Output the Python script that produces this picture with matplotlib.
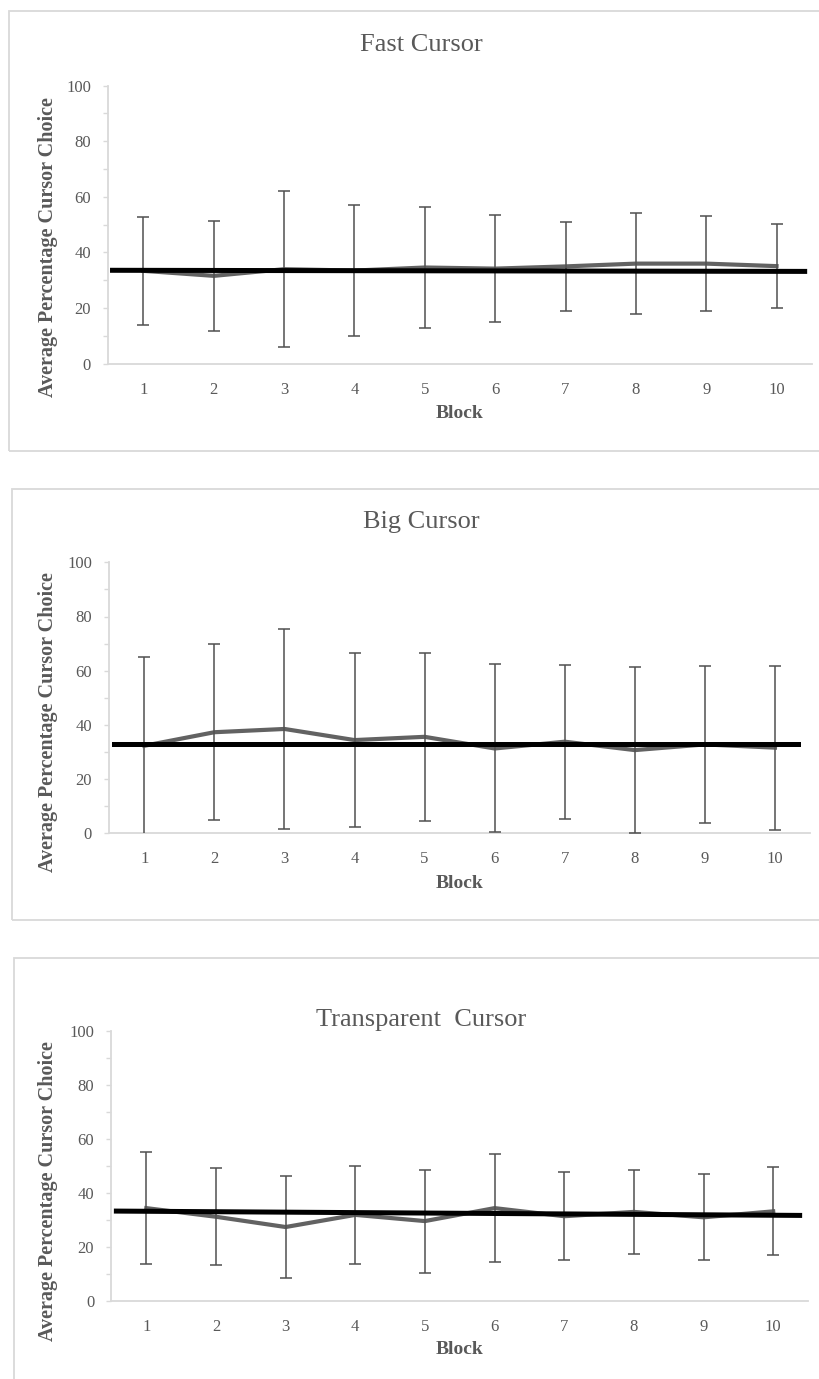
import matplotlib
matplotlib.use("Agg")
import matplotlib.pyplot as plt
from matplotlib.patches import Rectangle
from matplotlib.ticker import MultipleLocator

# data
blocks = [1, 2, 3, 4, 5, 6, 7, 8, 9, 10]
block_labels = ["1", "2", "3", "4", "5", "6", "7", "8", "9", "10"]

fast_mean = [33.4, 31.6, 34.0, 33.5, 34.6, 34.2, 35.0, 36.0, 36.0, 35.1]
fast_err = [19.5, 19.7, 28.1, 23.5, 21.8, 19.3, 16.0, 18.2, 17.1, 15.1]
fast_ref_x = [0.56, 10.40]
fast_ref_y = [33.6, 33.2]

big_mean = [32.3, 37.3, 38.5, 34.4, 35.6, 31.3, 33.8, 30.7, 32.8, 31.6]
big_err = [32.9, 32.4, 36.8, 32.0, 30.9, 31.0, 28.4, 30.7, 29.0, 30.3]
big_ref_x = [0.57, 10.33]
big_ref_y = [33.1, 33.1]

trans_mean = [34.4, 31.2, 27.4, 31.9, 29.6, 34.4, 31.4, 33.0, 31.0, 33.2]
trans_err = [20.7, 17.9, 18.8, 18.2, 19.1, 20.1, 16.3, 15.6, 15.9, 16.3]
trans_ref_x = [0.57, 10.38]
trans_ref_y = [33.3, 31.7]

titles = ["Fast Cursor", "Big Cursor", "Transparent  Cursor"]

W, H = 820, 1379
fig = plt.figure(figsize=(W / 100, H / 100), dpi=100)
fig.patch.set_facecolor("white")

SERIF = ["Liberation Serif", "DejaVu Serif"]
TXT = "#595959"
AXC = "#d9d9d9"


def frac(x0, y_top, x1, y_bot):
    # pixel box -> figure fraction rect
    return [x0 / W, 1 - y_bot / H, (x1 - x0) / W, (y_bot - y_top) / H]


# (border box, axes box, title y, ylabel center y, block label y)
panels = [
    ((8.5, 11, 830, 451), (108.3, 85.7, 811.7, 363.7), 45, 247, 413),
    ((12, 489, 830, 920), (109.3, 562.3, 810, 833.3), 522, 722, 883),
    ((14, 958, 830, 1400), (111.5, 1031, 808, 1301), 1020, 1191, 1350),
]
series = [
    (fast_mean, fast_err, fast_ref_x, fast_ref_y),
    (big_mean, big_err, big_ref_x, big_ref_y),
    (trans_mean, trans_err, trans_ref_x, trans_ref_y),
]

for (border, box, ty, ly, by), (mean, err, rx, ry), title in zip(panels, series, titles):
    bx0, by0, bx1, by1 = border
    fig.patches.append(Rectangle((bx0 / W, 1 - by1 / H), (bx1 - bx0) / W, (by1 - by0) / H,
                                 transform=fig.transFigure, fill=False,
                                 edgecolor=AXC, linewidth=1.3))

    ax = fig.add_axes(frac(*box))
    ax.plot(blocks, mean, color="#626262", linewidth=3.0, zorder=2, solid_joinstyle="round")
    ax.errorbar(blocks, mean, yerr=err, fmt="none", ecolor="#505050",
                elinewidth=1.1, capsize=4.2, capthick=1.1, zorder=3)
    ax.plot(rx, ry, color="black", linewidth=3.6, zorder=4)

    ax.set_xlim(0.5, 10.5)
    ax.set_ylim(0, 100)
    ax.set_xticks(blocks)
    ax.set_xticklabels(block_labels)
    ax.yaxis.set_major_locator(MultipleLocator(20))
    ax.yaxis.set_minor_locator(MultipleLocator(10))
    for s in ["top", "right"]:
        ax.spines[s].set_visible(False)
    for s in ["left", "bottom"]:
        ax.spines[s].set_color(AXC)
        ax.spines[s].set_linewidth(1.3)
    ax.tick_params(axis="x", length=0, pad=13, labelsize=12, labelcolor=TXT)
    ax.tick_params(axis="y", which="both", length=3.5, color=AXC, width=1.0,
                   pad=9, labelsize=12, labelcolor=TXT)
    for lab in ax.get_xticklabels() + ax.get_yticklabels():
        lab.set_family(SERIF)

    fig.text(421 / W, 1 - ty / H, title, ha="center", va="center",
             fontsize=19, color=TXT, family=SERIF)
    fig.text(460 / W, 1 - by / H, "Block", ha="center", va="center",
             fontsize=14, fontweight="bold", color=TXT, family=SERIF)
    fig.text(48 / W, 1 - ly / H, "Average Percentage Cursor Choice", ha="center",
             va="center", rotation=90, fontsize=14.5, fontweight="bold",
             color=TXT, family=SERIF)

fig.savefig("out.png", dpi=100, facecolor="white")
